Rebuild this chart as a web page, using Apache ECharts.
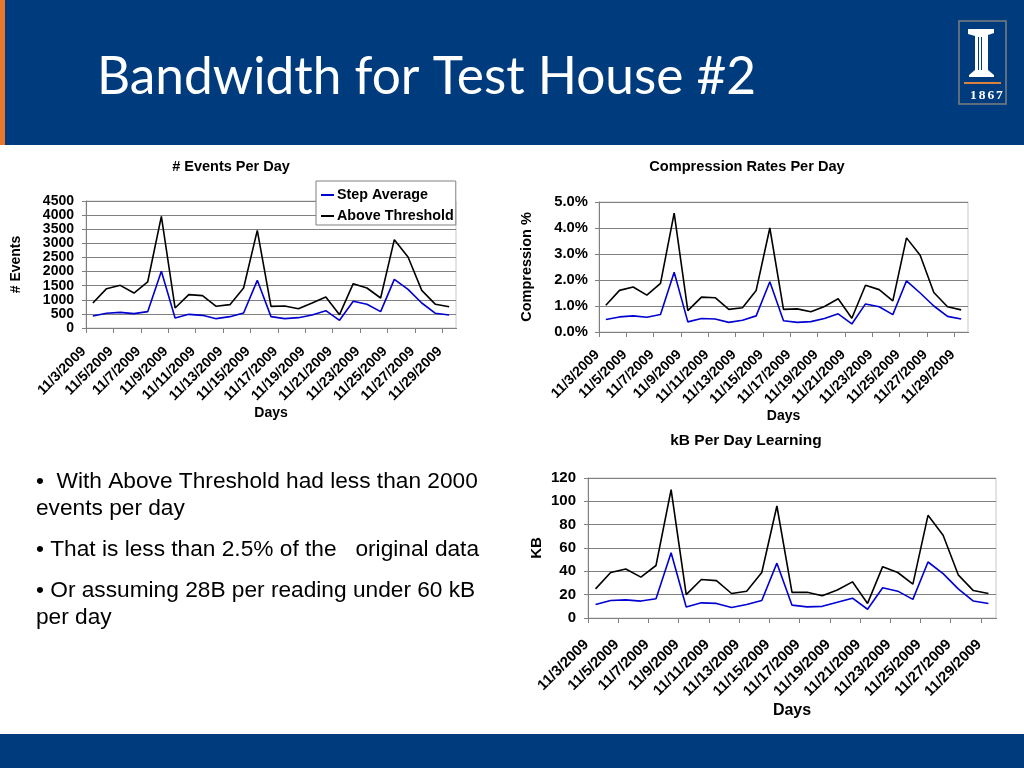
<!DOCTYPE html>
<html><head><meta charset="utf-8">
<style>html,body{margin:0;padding:0;background:#fff}#c{width:1024px;height:768px}</style>
<script src="https://cdn.jsdelivr.net/npm/echarts@6/dist/echarts.min.js"></script>
</head><body><div id="c"></div>
<script>
const days = ['11/3/2009','11/4/2009','11/5/2009','11/6/2009','11/7/2009','11/8/2009','11/9/2009','11/10/2009','11/11/2009','11/12/2009','11/13/2009','11/14/2009','11/15/2009','11/16/2009','11/17/2009','11/18/2009','11/19/2009','11/20/2009','11/21/2009','11/22/2009','11/23/2009','11/24/2009','11/25/2009','11/26/2009','11/27/2009','11/28/2009','11/29/2009'];
const eventsAbove = [886,1394,1512,1240,1630,3957,709,1181,1146,768,827,1417,3460,768,780,685,886,1098,472,1571,1417,1063,3130,2516,1335,839,756];
const eventsStep = [425,520,555,508,579,2008,354,484,449,331,402,531,1689,402,331,366,460,614,272,945,839,579,1724,1370,886,520,460];
const compAbove = [1.03,1.6,1.73,1.42,1.87,4.57,0.82,1.34,1.32,0.87,0.93,1.6,4.0,0.87,0.89,0.78,0.98,1.28,0.53,1.8,1.63,1.2,3.62,2.95,1.52,0.97,0.85];
const compStep = [0.48,0.58,0.62,0.57,0.67,2.3,0.39,0.52,0.5,0.37,0.45,0.62,1.93,0.43,0.37,0.4,0.52,0.7,0.31,1.08,0.97,0.67,1.97,1.5,1.0,0.6,0.5];
const kbAbove = [25,39,42,35,45,110,20,33,32,21,23,39,96,22,22,19,24,31,12.5,44,39,29,88,71,37,23.5,21];
const kbStep = [11.5,15,15.5,14.5,16.5,56,9.5,13,12.5,9,11.5,15,47,11,9.5,10,13.5,17,7.5,26,23,16,48,38,25,14.5,12.5];
const bullets = [
 ['•  With Above Threshold had less than 2000',482],
 ['events per day',509],
 ['• That is less than 2.5% of the   original data',550],
 ['• Or assuming 28B per reading under 60 kB',591],
 ['per day',618]
];
const F='"Liberation Sans", Arial, sans-serif';
const BLUE='#003c7d';
const grids=[
 {left:86,top:201,width:370,height:127},
 {left:599,top:202,width:369,height:130},
 {left:588,top:478,width:408,height:140}
];
const ySpec=[
 {min:0,max:4500,interval:500,name:'# Events',gap:63,fs:14,nfs:14,mg:12,fmt:v=>v},
 {min:0,max:5,interval:1,name:'Compression %',gap:65,fs:14.8,nfs:14.5,mg:11,fmt:v=>v.toFixed(1)+'%'},
 {min:0,max:120,interval:20,name:'KB',gap:44,fs:15,nfs:15,mg:12,fmt:v=>v}
];
const xSpec=[{fs:14,gap:77,nfs:14,pad:13,mg:12},{fs:14,gap:77,nfs:14,pad:12,mg:12},{fs:14.8,gap:83,nfs:16,pad:13,mg:15}];
const seriesSets=[[eventsStep,eventsAbove],[compStep,compAbove],[kbStep,kbAbove]];
const titles=[['# Events Per Day',231,159,14.5],['Compression Rates Per Day',747,159,14.6],['kB Per Day Learning',746,433,15.5]];
const option={
 animation:false,
 backgroundColor:'#fff',
 title:titles.map(t=>({text:t[0],left:t[1],top:t[2],textAlign:'center',padding:0,textStyle:{fontFamily:F,fontSize:t[3],fontWeight:'bold',color:'#000'}})),
 legend:{left:316,top:181,orient:'vertical',data:['Step Average','Above Threshold'],backgroundColor:'#fff',borderColor:'#808080',borderWidth:1,padding:[7,2,2,5],itemGap:7,itemWidth:13,itemHeight:2,icon:'rect',textStyle:{fontFamily:F,fontSize:14.3,fontWeight:'bold',color:'#000',padding:[0,0,0,-2]},selectedMode:false,z:10},
 grid:grids.map(g=>({...g,show:true,backgroundColor:'transparent',borderColor:'#c8c8c8',borderWidth:1})),
 xAxis:grids.map((g,i)=>({type:'category',gridIndex:i,data:days,boundaryGap:true,name:'Days',nameLocation:'middle',nameGap:xSpec[i].gap,
   nameTextStyle:{fontFamily:F,fontSize:xSpec[i].nfs,fontWeight:'bold',color:'#000'},
   axisLine:{lineStyle:{color:'#808080',width:1}},axisTick:{show:true,interval:1,length:5,lineStyle:{color:'#808080'}},
   axisLabel:{interval:1,rotate:45,margin:xSpec[i].mg,hideOverlap:false,padding:[0,xSpec[i].pad,0,0],fontFamily:F,fontSize:xSpec[i].fs,fontWeight:'bold',color:'#000'},splitLine:{show:false}})),
 yAxis:grids.map((g,i)=>({type:'value',gridIndex:i,min:ySpec[i].min,max:ySpec[i].max,interval:ySpec[i].interval,name:ySpec[i].name,nameLocation:'middle',nameGap:ySpec[i].gap,nameRotate:90,
   nameTextStyle:{fontFamily:F,fontSize:ySpec[i].nfs,fontWeight:'bold',color:'#000'},
   axisLine:{show:true,lineStyle:{color:'#808080',width:1}},axisTick:{show:true,length:4,lineStyle:{color:'#808080'}},
   axisLabel:{margin:ySpec[i].mg,formatter:ySpec[i].fmt,fontFamily:F,fontSize:ySpec[i].fs,fontWeight:'bold',color:'#000'},
   splitLine:{show:true,lineStyle:{color:'#808080',width:1}}})),
 series:seriesSets.flatMap((s,i)=>[
   {name:'Step Average',type:'line',xAxisIndex:i,yAxisIndex:i,data:s[0],showSymbol:false,smooth:false,lineStyle:{color:'#0000d0',width:1.6},itemStyle:{color:'#0000d0'},z:3},
   {name:'Above Threshold',type:'line',xAxisIndex:i,yAxisIndex:i,data:s[1],showSymbol:false,smooth:false,lineStyle:{color:'#000',width:1.6},itemStyle:{color:'#000'},z:4}
 ]),
 graphic:[
  {type:'rect',shape:{x:0,y:0,width:1024,height:145},style:{fill:BLUE},z:0,silent:true},
  {type:'rect',shape:{x:0,y:0,width:5,height:145},style:{fill:'#e8762c'},z:1,silent:true},
  {type:'rect',shape:{x:0,y:734,width:1024,height:34},style:{fill:BLUE},z:0,silent:true},
  {type:'text',x:97,y:52,style:{text:'Bandwidth for Test House #2',fill:'#fff',font:'51.4px Lato, "Open Sans", sans-serif'},z:2},
  ...bullets.map(b=>({type:'text',x:36,y:b[1],style:{text:b[0],fill:'#000',font:'22.7px '+F,verticalAlign:'middle',textVerticalAlign:'middle'},z:2})),
  ...grids.map(g=>({type:'rect',shape:{x:g.left+g.width-1,y:g.top+g.height+1,width:3,height:6},style:{fill:'#fff'},z:20,silent:true})),
  {type:'rect',shape:{x:959,y:21,width:47,height:83},style:{fill:BLUE,stroke:'#7f7f7f',lineWidth:1.5},z:2},
  {type:'polygon',shape:{points:[[968,29],[994,29],[994,33],[988,35],[988,70],[994,75],[994,77],[969,77],[969,75],[975,70],[975,36],[968,34]]},style:{fill:'#fff'},z:3},
  {type:'rect',shape:{x:978,y:37,width:1,height:33},style:{fill:BLUE},z:4},
  {type:'rect',shape:{x:981,y:37,width:1,height:33},style:{fill:BLUE},z:4},
  {type:'rect',shape:{x:964,y:82,width:37,height:2},style:{fill:'#d9823f'},z:3},
  ...['1','8','6','7'].map((d,i)=>({type:'text',x:970+i*8.7,y:89,style:{text:d,fill:'#fff',font:'bold 13.5px "Liberation Serif", serif'},z:3}))
 ]
};
echarts.init(document.getElementById('c'),null,{renderer:'canvas',width:1024,height:768}).setOption(option);
</script></body></html>
